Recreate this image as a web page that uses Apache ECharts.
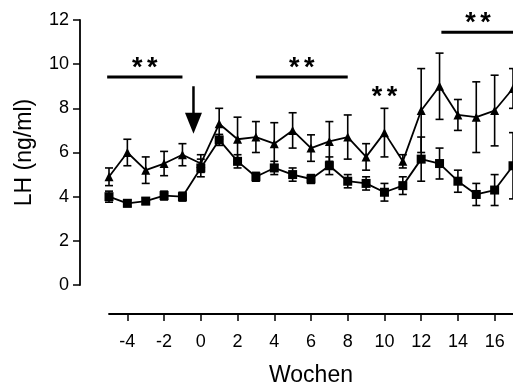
<!DOCTYPE html>
<html>
<head>
<meta charset="utf-8">
<script src="https://cdn.jsdelivr.net/npm/echarts@6/dist/echarts.min.js"></script>
<style>
  html, body { margin: 0; padding: 0; background: #fff; }
  #chart { width: 513px; height: 383px; }
</style>
</head>
<body>
<div id="chart"></div>
<script>
// weeks relative to start of treatment
const weeks = [-5, -4, -3, -2, -1, 0, 1, 2, 3, 4, 5, 6, 7, 8, 9, 10, 11, 12, 13, 14, 15, 16, 17];
const triMean = [4.9, 6.0, 5.2, 5.5, 5.9, 5.5, 7.3, 6.6, 6.7, 6.4, 7.0, 6.2, 6.5, 6.7, 5.8, 6.9, 5.6, 7.9, 9.0, 7.7, 7.6, 7.9, 8.9];
const triErr = [0.4, 0.6, 0.6, 0.55, 0.5, 0.4, 0.7, 1.0, 0.7, 0.95, 0.8, 0.6, 0.9, 1.0, 0.6, 1.1, 0.3, 1.9, 1.5, 0.7, 1.6, 1.6, 0.9];
const sqMean = [4.0, 3.7, 3.8, 4.05, 4.0, 5.3, 6.57, 5.6, 4.9, 5.3, 5.0, 4.8, 5.4, 4.7, 4.6, 4.2, 4.5, 5.7, 5.5, 4.7, 4.1, 4.3, 5.4];
const sqErr = [0.25, 0.15, 0.15, 0.2, 0.2, 0.4, 0.25, 0.3, 0.2, 0.3, 0.3, 0.2, 0.4, 0.3, 0.3, 0.4, 0.4, 1.0, 0.7, 0.5, 0.5, 0.7, 1.5];
const xTicks = [-4, -2, 0, 2, 4, 6, 8, 10, 12, 14, 16];

// significance bars: [fromWeek, toWeek, level]
const sigBars = [[-5.1, -1, 9.42], [3, 8, 9.42], [13.1, 17.5, 11.44]];
const sigStars = [[10, 8.8]];
// arrow: [week, top, tip]
const arrowData = [[-0.4, 9.0, 6.85]];

function errData(mean, err) {
  return weeks.map((w, i) => [w, mean[i] - err[i], mean[i] + err[i]]);
}

function renderErr(params, api) {
  const lo = api.coord([api.value(0), api.value(1)]);
  const hi = api.coord([api.value(0), api.value(2)]);
  const cap = 4;
  const st = { stroke: '#000', lineWidth: 1.6 };
  return {
    type: 'group',
    children: [
      { type: 'line', shape: { x1: lo[0], y1: lo[1], x2: hi[0], y2: hi[1] }, style: st },
      { type: 'line', shape: { x1: lo[0] - cap, y1: lo[1], x2: lo[0] + cap, y2: lo[1] }, style: st },
      { type: 'line', shape: { x1: hi[0] - cap, y1: hi[1], x2: hi[0] + cap, y2: hi[1] }, style: st }
    ]
  };
}

// "**" drawn as two glyphs; asterisks sit high in the em box, so anchor on the text top
const starFont = { fill: '#000', fontSize: 27, fontFamily: 'Liberation Sans', fontWeight: 'bold' };
function stars(x, yCenter) {
  return {
    type: 'group',
    children: [-7.5, 7.5].map(dx => ({
      type: 'text', x: x + dx, y: yCenter - 7,
      style: Object.assign({ text: '*', align: 'center', verticalAlign: 'top' }, starFont)
    }))
  };
}

const chart = echarts.init(document.getElementById('chart'));
chart.setOption({
  animation: false,
  grid: { left: 109, right: 0, top: 20, bottom: 98, outerBoundsMode: 'none' },
  xAxis: {
    type: 'value',
    min: -5,
    max: 17,
    offset: 29,
    name: 'Wochen',
    nameLocation: 'middle',
    nameGap: 50,
    nameTextStyle: { color: '#000', fontSize: 23, fontFamily: 'Liberation Sans' },
    splitLine: { show: false },
    axisLine: { onZero: false, lineStyle: { color: '#000', width: 1.8 } },
    axisTick: { length: 7, customValues: xTicks, lineStyle: { color: '#000', width: 1.5 } },
    axisLabel: { customValues: xTicks, margin: 19, color: '#000', fontSize: 18, fontFamily: 'Liberation Sans' }
  },
  yAxis: {
    type: 'value',
    min: 0,
    max: 12,
    interval: 2,
    offset: 29,
    name: 'LH (ng/ml)',
    nameLocation: 'middle',
    nameGap: 44,
    nameRotate: 90,
    nameTextStyle: { color: '#000', fontSize: 23, fontFamily: 'Liberation Sans' },
    splitLine: { show: false },
    axisLine: { show: true, onZero: false, lineStyle: { color: '#000', width: 1.8 } },
    axisTick: { show: true, length: 7, lineStyle: { color: '#000', width: 1.5 } },
    axisLabel: { margin: 11, color: '#000', fontSize: 18, fontFamily: 'Liberation Sans' }
  },
  series: [
    { type: 'custom', data: errData(triMean, triErr), renderItem: renderErr, clip: false, z: 2 },
    { type: 'custom', data: errData(sqMean, sqErr), renderItem: renderErr, clip: false, z: 2 },
    {
      type: 'line',
      data: weeks.map((w, i) => [w, triMean[i]]),
      symbol: 'triangle',
      symbolSize: 9,
      lineStyle: { color: '#000', width: 1.8 },
      itemStyle: { color: '#000' },
      z: 3
    },
    {
      type: 'line',
      data: weeks.map((w, i) => [w, sqMean[i]]),
      symbol: 'rect',
      symbolSize: 9,
      lineStyle: { color: '#000', width: 1.8 },
      itemStyle: { color: '#000' },
      z: 3
    },
    {
      type: 'custom',
      data: sigBars,
      clip: false,
      renderItem: (params, api) => {
        const a = api.coord([api.value(0), api.value(2)]);
        const b = api.coord([api.value(1), api.value(2)]);
        return {
          type: 'group',
          children: [
            { type: 'line', shape: { x1: a[0], y1: a[1], x2: b[0], y2: b[1] }, style: { stroke: '#000', lineWidth: 3 } },
            stars(Math.min((a[0] + b[0]) / 2, 478), a[1] - 15)
          ]
        };
      }
    },
    {
      type: 'custom',
      data: sigStars,
      clip: false,
      renderItem: (params, api) => {
        const p = api.coord([api.value(0), api.value(1)]);
        return stars(p[0], p[1]);
      }
    },
    {
      type: 'custom',
      data: arrowData,
      clip: false,
      renderItem: (params, api) => {
        const top = api.coord([api.value(0), api.value(1)]);
        const tip = api.coord([api.value(0), api.value(2)]);
        const headLen = 21, headW = 8.5;
        return {
          type: 'group',
          children: [
            { type: 'line', shape: { x1: top[0], y1: top[1], x2: tip[0], y2: tip[1] - headLen + 1 }, style: { stroke: '#000', lineWidth: 2.5 } },
            { type: 'polygon', shape: { points: [[tip[0] - headW, tip[1] - headLen], [tip[0] + headW, tip[1] - headLen], [tip[0], tip[1]]] }, style: { fill: '#000' } }
          ]
        };
      }
    }
  ]
});
</script>
</body>
</html>
